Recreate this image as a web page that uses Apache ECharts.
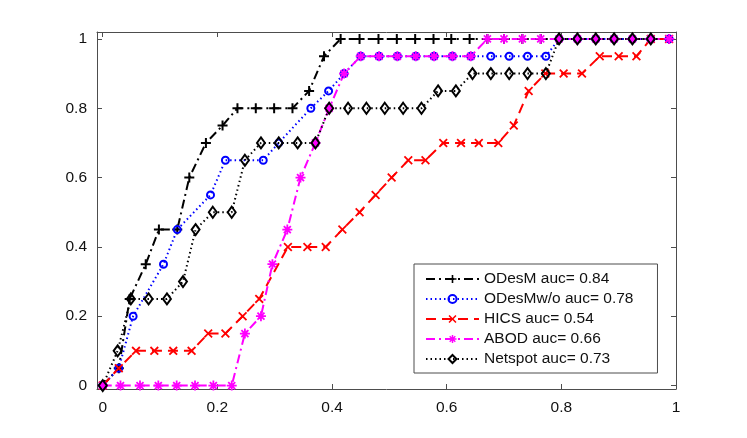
<!DOCTYPE html>
<html>
<head>
<meta charset="utf-8">
<script src="https://cdn.jsdelivr.net/npm/echarts@6/dist/echarts.min.js"></script>
<style>
  html, body { margin: 0; padding: 0; background: #fff; }
  #chart { width: 747px; height: 438px; }
</style>
</head>
<body>
<div id="chart"></div>
<script>
// ROC curves ([fpr, tpr] pairs)
var odesm = [[0,0],[0.028,0.05],[0.047,0.25],[0.075,0.35],[0.098,0.45],[0.13,0.45],[0.151,0.6],[0.18,0.7],
  [0.209,0.75],[0.235,0.8],[0.267,0.8],[0.299,0.8],[0.331,0.8],[0.36,0.85],[0.386,0.95],[0.415,1],[0.448,1],
  [0.481,1],[0.513,1],[0.545,1],[0.577,1],[0.608,1],[0.64,1],[0.671,1],[0.7,1],[0.732,1],[0.764,1],[0.796,1],
  [0.828,1],[0.86,1],[0.892,1],[0.924,1],[0.956,1],[0.988,1]];
var odesmWo = [[0,0],[0.028,0.05],[0.053,0.2],[0.106,0.35],[0.13,0.45],[0.188,0.55],[0.214,0.65],[0.28,0.65],
  [0.307,0.7],[0.363,0.8],[0.394,0.85],[0.421,0.9],[0.45,0.95],[0.482,0.95],[0.514,0.95],[0.546,0.95],[0.578,0.95],
  [0.61,0.95],[0.642,0.95],[0.677,0.95],[0.709,0.95],[0.741,0.95],[0.773,0.95],[0.796,1],[0.828,1],[0.86,1],
  [0.892,1],[0.924,1],[0.956,1],[0.988,1]];
var hics = [[0,0],[0.028,0.05],[0.058,0.1],[0.09,0.1],[0.123,0.1],[0.155,0.1],[0.184,0.15],[0.214,0.15],[0.244,0.2],
  [0.273,0.25],[0.323,0.4],[0.357,0.4],[0.389,0.4],[0.418,0.45],[0.448,0.5],[0.476,0.55],[0.504,0.6],[0.533,0.65],
  [0.563,0.65],[0.594,0.7],[0.625,0.7],[0.656,0.7],[0.69,0.7],[0.717,0.75],[0.743,0.85],[0.772,0.9],[0.804,0.9],
  [0.836,0.9],[0.867,0.95],[0.9,0.95],[0.931,0.95],[0.956,1],[0.988,1]];
var abod = [[0,0],[0.031,0],[0.065,0],[0.097,0],[0.129,0],[0.161,0],[0.193,0],[0.225,0],[0.248,0.15],[0.276,0.2],
  [0.296,0.35],[0.322,0.45],[0.345,0.6],[0.371,0.7],[0.395,0.8],[0.421,0.9],[0.45,0.95],[0.482,0.95],[0.514,0.95],
  [0.546,0.95],[0.578,0.95],[0.61,0.95],[0.642,0.95],[0.671,1],[0.7,1],[0.732,1],[0.764,1],[0.796,1],[0.828,1],
  [0.86,1],[0.892,1],[0.924,1],[0.956,1],[0.988,1]];
var netspot = [[0,0],[0.026,0.1],[0.049,0.25],[0.08,0.25],[0.112,0.25],[0.14,0.3],[0.162,0.45],[0.192,0.5],
  [0.225,0.5],[0.248,0.65],[0.276,0.7],[0.307,0.7],[0.34,0.7],[0.371,0.7],[0.395,0.8],[0.428,0.8],[0.46,0.8],
  [0.492,0.8],[0.524,0.8],[0.556,0.8],[0.585,0.85],[0.616,0.85],[0.645,0.9],[0.677,0.9],[0.709,0.9],[0.741,0.9],
  [0.773,0.9],[0.796,1],[0.828,1],[0.86,1],[0.892,1],[0.924,1],[0.956,1]];

var methodNames = ['ODesM', 'ODesMw/o', 'HICS', 'ABOD', 'Netspot'];
var aucValues = ['0.84', '0.78', '0.54', '0.66', '0.73'];
var xTicks = [0, 0.2, 0.4, 0.6, 0.8, 1];
var yTicks = [0, 0.2, 0.4, 0.6, 0.8, 1];

var FONT = '"Liberation Sans", Arial, Helvetica, sans-serif';
var FONT_SIZE = 15.5;
var AXIS_COLOR = '#4d4d4d';

var PLUS = 'path://M4,0H6V4H10V6H6V10H4V6H0V4H4Z';
var CROSS = 'path://M0,1.4L1.4,0L5,3.6L8.6,0L10,1.4L6.4,5L10,8.6L8.6,10L5,6.4L1.4,10L0,8.6L3.6,5Z';
var STAR = 'path://M0,4.1H10V5.9H0Z M4.1,0H5.9V10H4.1Z ' +
  'M2.136,0.864L9.136,7.864L7.864,9.136L0.864,2.136Z M7.864,0.864L9.136,2.136L2.136,9.136L0.864,7.864Z';

function label(i) {
  return methodNames[i] + ' auc= ' + aucValues[i];
}

function makeAxis(kind, pos, ticks, min, max, showLabels) {
  return {
    type: 'value',
    position: pos,
    min: min,
    max: max,
    splitLine: { show: false },
    axisLine: { show: true, onZero: false, lineStyle: { color: AXIS_COLOR, width: 1 } },
    axisTick: { show: true, inside: true, length: 5, customValues: ticks,
      lineStyle: { color: AXIS_COLOR, width: 1 } },
    axisLabel: { show: showLabels, customValues: ticks, color: '#111', fontSize: FONT_SIZE,
      fontFamily: FONT, margin: kind === 'x' ? 11 : 10 }
  };
}

var chart = echarts.init(document.getElementById('chart'), null, { renderer: 'canvas' });

var option = {
  animation: false,
  backgroundColor: '#fff',
  grid: { left: 97, right: 71, top: 32, bottom: 49, containLabel: false },
  xAxis: [
    makeAxis('x', 'bottom', xTicks, -0.01, 1, true),
    makeAxis('x', 'top', xTicks, -0.01, 1, false)
  ],
  yAxis: [
    makeAxis('y', 'left', yTicks, -0.01, 1.02, true),
    makeAxis('y', 'right', yTicks, -0.01, 1.02, false)
  ],
  legend: {
    orient: 'vertical',
    left: 414,
    top: 264,
    padding: [7, 24, 6, 11],
    itemGap: 4,
    itemWidth: 53,
    itemHeight: 10,
    backgroundColor: '#fff',
    borderColor: AXIS_COLOR,
    borderWidth: 1,
    textStyle: { color: '#111', fontSize: FONT_SIZE, fontFamily: FONT },
    data: [label(0), label(1), label(2), label(3), label(4)]
  },
  series: [
    {
      name: label(0), type: 'line', data: odesm, clip: false,
      symbol: PLUS, symbolSize: 10,
      itemStyle: { color: '#000' },
      lineStyle: { color: '#000', width: 2, type: [9, 4, 2, 4] }
    },
    {
      name: label(1), type: 'line', data: odesmWo, clip: false,
      symbol: 'circle', symbolSize: 7,
      itemStyle: { color: 'transparent', borderColor: '#0000ff', borderWidth: 2 },
      lineStyle: { color: '#0000ff', width: 2, type: [1.5, 3] }
    },
    {
      name: label(2), type: 'line', data: hics, clip: false,
      symbol: CROSS, symbolSize: 9,
      itemStyle: { color: '#ff0000' },
      lineStyle: { color: '#ff0000', width: 2, type: [10, 6] }
    },
    {
      name: label(3), type: 'line', data: abod, clip: false,
      symbol: STAR, symbolSize: 10,
      itemStyle: { color: '#ff00ff' },
      lineStyle: { color: '#ff00ff', width: 2, type: [9, 4, 2, 4] }
    },
    {
      name: label(4), type: 'line', data: netspot, clip: false,
      symbol: 'diamond', symbolSize: [8, 11],
      itemStyle: { color: 'transparent', borderColor: '#000', borderWidth: 2 },
      lineStyle: { color: '#000', width: 2, type: [1.5, 3] }
    }
  ]
};

chart.setOption(option);
</script>
</body>
</html>
